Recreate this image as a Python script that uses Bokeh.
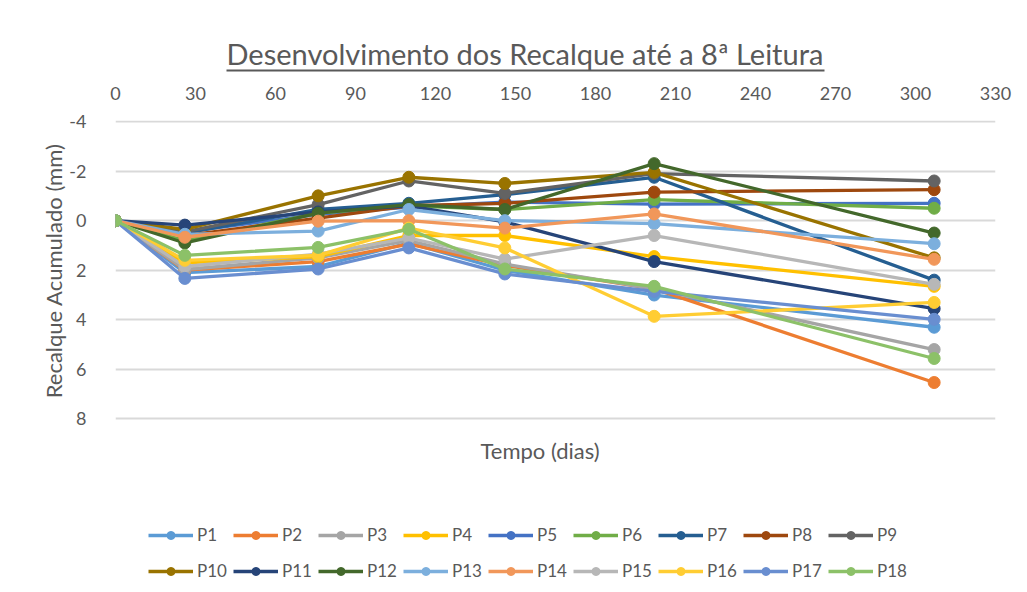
from bokeh.plotting import figure
from bokeh.models import (Range1d, FixedTicker, Legend, LegendItem, Title, LinearAxis,
                          Label)
from bokeh.embed import file_html
from bokeh.resources import INLINE

# ---------------- data ----------------
days = [0, 26, 76, 110, 146, 202, 307]
names = ["P1", "P2", "P3", "P4", "P5", "P6", "P7", "P8", "P9",
         "P10", "P11", "P12", "P13", "P14", "P15", "P16", "P17", "P18"]
P1 = [0, 2.10, 1.85, 0.90, 2.00, 3.00, 4.30]
P2 = [0, 2.00, 1.65, 0.95, 1.80, 2.75, 6.53]
P3 = [0, 1.97, 1.50, 0.80, 1.75, 2.75, 5.20]
P4 = [0, 1.70, 1.45, 0.60, 0.60, 1.45, 2.65]
P5 = [0, 0.45, -0.25, -0.55, -0.75, -0.67, -0.70]
P6 = [0, 0.80, -0.30, -0.60, -0.45, -0.85, -0.50]
P7 = [0, 0.50, -0.45, -0.70, -1.05, -1.75, 2.40]
P8 = [0, 0.60, -0.10, -0.60, -0.70, -1.15, -1.25]
P9 = [0, 0.45, -0.65, -1.60, -1.10, -1.90, -1.60]
P10 = [0, 0.35, -1.00, -1.75, -1.50, -1.95, 1.50]
P11 = [0, 0.18, -0.35, -0.60, 0.05, 1.65, 3.55]
P12 = [0, 0.90, -0.30, -0.65, -0.45, -2.30, 0.50]
P13 = [0, 0.55, 0.42, -0.45, 0.00, 0.12, 0.93]
P14 = [0, 0.67, 0.02, 0.00, 0.30, -0.27, 1.56]
P15 = [0, 1.85, 1.35, 0.70, 1.55, 0.60, 2.57]
P16 = [0, 1.60, 1.40, 0.30, 1.10, 3.86, 3.30]
P17 = [0, 2.33, 1.95, 1.10, 2.15, 2.85, 3.98]
P18 = [0, 1.40, 1.08, 0.35, 1.95, 2.65, 5.56]
values = [P1, P2, P3, P4, P5, P6, P7, P8, P9,
          P10, P11, P12, P13, P14, P15, P16, P17, P18]
colors = ["#5B9BD5", "#ED7D31", "#A5A5A5", "#FFC000", "#4472C4", "#70AD47",
          "#255E91", "#9E480E", "#636363", "#997300", "#264478", "#43682B",
          "#7CAFDD", "#F1975A", "#B7B7B7", "#FFCD33", "#698ED0", "#8CC168"]
x_ticks = list(range(0, 331, 30))
y_ticks = [-4, -2, 0, 2, 4, 6, 8]
y_tick_labels = {-4: "-4", -2: "-2", 0: "0", 2: "2", 4: "4", 6: "6", 8: "8"}

title_text = "Desenvolvimento dos Recalque até a 8ª Leitura"
x_label = "Tempo (dias)"
y_label = "Recalque Acumulado (mm)"

FONT = "Lato"
TXT = "#595959"
W, H = 1022, 590

# the plotting frame runs down to the bottom of the canvas so that the
# x-axis title and the legend rows can sit under the -4..8 grid
p = figure(width=W, height=H, x_range=Range1d(0, 330), y_range=Range1d(14.92, -4.04),
           x_axis_location="above", output_backend="svg", toolbar_location=None,
           min_border_left=115, min_border_right=27,
           min_border_top=120, min_border_bottom=0)
p.outline_line_color = None

p.xaxis.ticker = FixedTicker(ticks=x_ticks)
p.yaxis.ticker = FixedTicker(ticks=y_ticks)
p.yaxis.major_label_overrides = y_tick_labels
for ax in (p.xaxis[0], p.yaxis[0]):
    ax.axis_line_color = None
    ax.major_tick_line_color = None
    ax.major_tick_out = 0
    ax.major_tick_in = 0
    ax.minor_tick_line_color = None
    ax.major_label_text_font = FONT
    ax.major_label_text_font_size = "18px"
    ax.major_label_text_color = TXT
p.xaxis.major_label_standoff = 21
p.yaxis.major_label_standoff = 29

p.xgrid.grid_line_color = None
p.ygrid.ticker = FixedTicker(ticks=y_ticks)
p.ygrid.grid_line_color = "#D9D9D9"
p.ygrid.grid_line_width = 2

items = []
for nm, vals, c in zip(names, values, colors):
    r1 = p.line(days, vals, line_color=c, line_width=3.3)
    r2 = p.scatter(days, vals, marker="circle", size=12, fill_color=c, line_color=c)
    items.append(LegendItem(label=nm, renderers=[r1, r2]))

# --- y axis title (left panel, aligned with the -4..8 part of the frame) ---
p.add_layout(Title(text=y_label, align="right", offset=23, standoff=0,
                   vertical_align="bottom", text_font=FONT, text_font_size="22px",
                   text_font_style="normal", text_color=TXT), "left")

# --- above: spacer, underline, title ---
spacer = LinearAxis(ticker=FixedTicker(ticks=[0]), axis_line_color=None,
                    major_tick_out=13, major_tick_in=0, major_label_standoff=0,
                    major_label_overrides={0: ""},
                    major_tick_line_color="white", minor_tick_line_color=None)
p.add_layout(spacer, "above")
underline = LinearAxis(ticker=FixedTicker(ticks=[]), bounds=(41.6, 265.9),
                       axis_line_color=TXT, axis_line_width=2,
                       major_tick_out=0, major_tick_in=0, major_label_standoff=0,
                       major_tick_line_color=None, minor_tick_line_color=None)
p.add_layout(underline, "above")
p.add_layout(Title(text=title_text, align="left", offset=111, standoff=0,
                   text_font=FONT, text_font_size="29px", text_font_style="normal",
                   text_color=TXT), "above")

# --- x axis title and the two legend rows, under the grid ---
p.add_layout(Label(x=365, y=140, x_units="screen", y_units="screen", text=x_label,
                   text_align="left", text_baseline="middle", text_font=FONT,
                   text_font_size="22px", text_color=TXT))

def make_legend(its, vy):
    return Legend(items=its, orientation="horizontal", location=(33, vy),
                  glyph_width=45, glyph_height=20, label_height=20, label_width=33,
                  label_standoff=4, spacing=3, padding=0, margin=0,
                  border_line_color=None, background_fill_alpha=0,
                  label_text_font=FONT, label_text_font_size="17px",
                  label_text_color=TXT)

p.add_layout(make_legend(items[:9], 45), "center")
p.add_layout(make_legend(items[9:], 9), "center")

open("out.html", "w").write(file_html(p, INLINE))
